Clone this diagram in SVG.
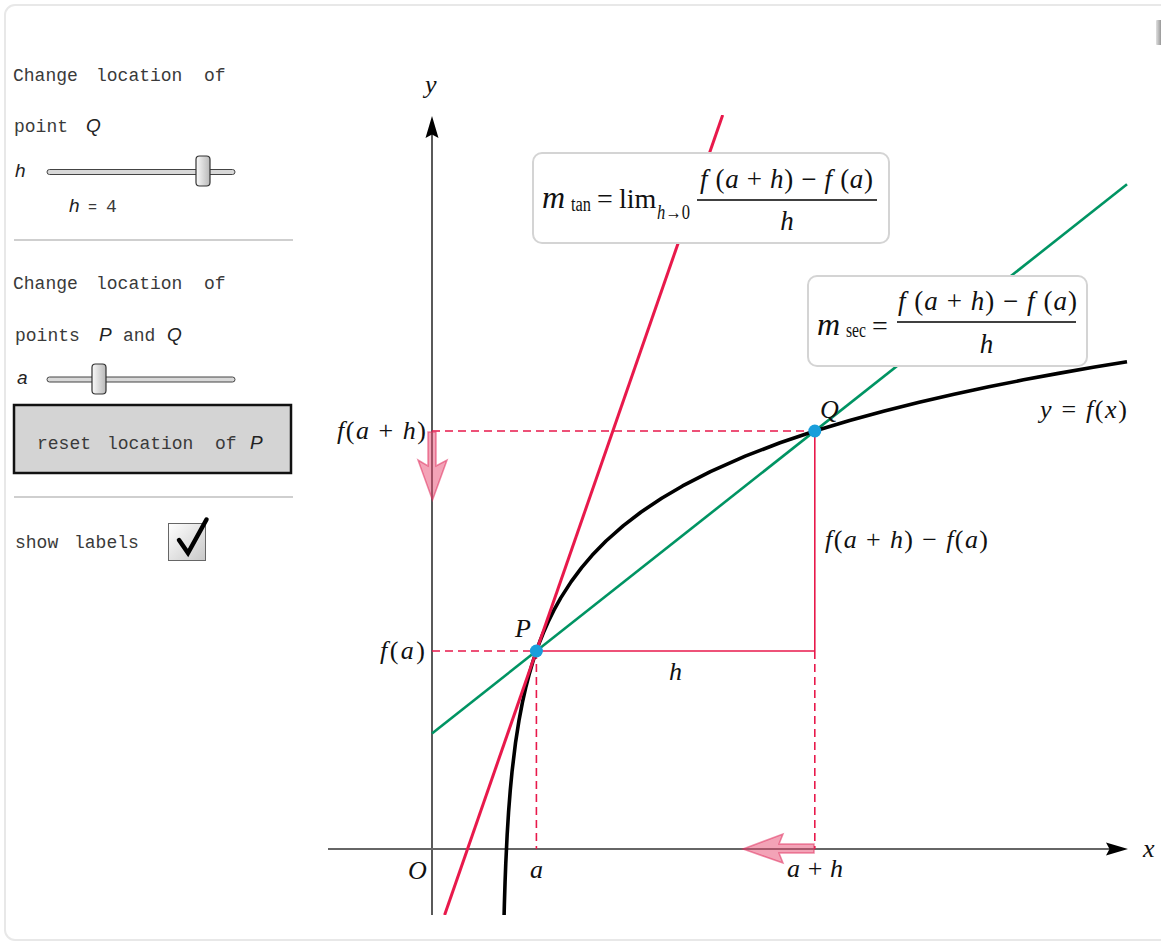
<svg xmlns="http://www.w3.org/2000/svg" width="1161" height="945" viewBox="0 0 1161 945">
<style>
.mono{font-family:"Liberation Mono","DejaVu Sans Mono",monospace;font-size:18px;fill:#3a3a3a}
.si{font-family:"Liberation Sans",Arial,sans-serif;font-style:italic;font-size:19px;fill:#222}
.m{font-family:"Liberation Serif","Times New Roman",serif;font-size:26px;fill:#111}
.i{font-style:italic}
.sub{font-size:20px}
.red{stroke:#e8194b;stroke-width:1.6;fill:none}
.dash{stroke-dasharray:8 5}
.box{fill:#fff;stroke:#d4d4d4;stroke-width:2}
.track{fill:#d8d8d8;stroke:#444;stroke-width:1}
.thumb{fill:url(#thumbG);stroke:#333;stroke-width:1.2}
.drag{fill:#e8476f;fill-opacity:.5;stroke:#e0305e;stroke-opacity:.55;stroke-width:1.5}
</style>
<defs>
<linearGradient id="thumbG" x1="0" y1="0" x2="1" y2="0">
<stop offset="0" stop-color="#fafafa"/><stop offset="1" stop-color="#b8b8b8"/>
</linearGradient>
<linearGradient id="cbG" x1="0" y1="0" x2="1" y2="1">
<stop offset="0" stop-color="#ffffff"/><stop offset="1" stop-color="#c8c8c8"/>
</linearGradient>
<linearGradient id="sbG" x1="0" y1="0" x2="1" y2="0">
<stop offset="0" stop-color="#e0e0e0"/><stop offset="1" stop-color="#8a8a8a"/>
</linearGradient>
<clipPath id="plotClip"><rect x="328" y="115" width="800" height="800"/></clipPath>
</defs>

<rect x="0" y="0" width="1161" height="945" fill="#fff"/>
<rect x="5" y="5" width="1175" height="935" rx="10" fill="#fff" stroke="#e8e8e8" stroke-width="2"/>
<rect x="1156" y="20" width="6" height="25" rx="1" fill="url(#sbG)"/>

<!-- control panel -->
<g id="panel">
<g id="ctrl-h">
<text class="mono" y="81"><tspan x="13">Change</tspan><tspan x="96">location</tspan><tspan x="204">of</tspan></text>
<text class="mono" x="14" y="132">point</text>
<text class="si" x="86" y="132">Q</text>
<text class="si" x="15" y="177">h</text>
<rect class="track" x="47" y="169.5" width="188" height="5" rx="2.5"/>
<rect class="thumb" x="196" y="156" width="14" height="30" rx="3.5"/>
<text class="si" x="69" y="212">h</text>
<text class="mono" x="88" y="212" style="font-size:15px">=</text>
<text class="mono" x="106" y="212">4</text>
</g>
<line x1="14" y1="240" x2="293" y2="240" stroke="#cfcfcf" stroke-width="2"/>
<g id="ctrl-a">
<text class="mono" y="289"><tspan x="13">Change</tspan><tspan x="96">location</tspan><tspan x="204">of</tspan></text>
<text class="mono" x="15" y="341">points</text>
<text class="si" x="99" y="341">P</text>
<text class="mono" x="123" y="341">and</text>
<text class="si" x="167" y="341">Q</text>
<text class="si" x="17" y="384">a</text>
<rect class="track" x="47" y="377" width="188" height="5" rx="2.5"/>
<rect class="thumb" x="92" y="364" width="14" height="30" rx="3.5"/>
</g>
<g id="reset-button">
<rect x="14" y="405" width="277" height="68" fill="#d4d4d4" stroke="#111" stroke-width="2.5"/>
<text class="mono" y="449"><tspan x="37">reset</tspan><tspan x="107">location</tspan><tspan x="215">of</tspan></text>
<text class="si" x="250" y="449">P</text>
</g>
<line x1="14" y1="497" x2="293" y2="497" stroke="#cfcfcf" stroke-width="2"/>
<g id="show-labels">
<text class="mono" y="548"><tspan x="15">show</tspan><tspan x="74">labels</tspan></text>
<rect x="168.5" y="523.5" width="37" height="37" fill="url(#cbG)" stroke="#666" stroke-width="1"/>
<path d="M179,540 L188,553 L206.5,519.5" fill="none" stroke="#000" stroke-width="4.5" stroke-linecap="round" stroke-linejoin="miter"/>
</g>
</g>

<!-- plot -->
<g id="axes">
<line x1="432" y1="915" x2="432" y2="134" stroke="#000" stroke-width="1.3"/>
<path d="M432,116 L438.5,138 L432,134.5 L425.5,138 Z" fill="#000"/>
<line x1="328" y1="849" x2="1110" y2="849" stroke="#666" stroke-width="1.8"/>
<path d="M1128,849 L1106,842.5 L1109.5,849 L1106,855.5 Z" fill="#000"/>
</g>

<g id="connectors">
<g id="guides">
<line class="red dash" x1="432" y1="431" x2="814.8" y2="431"/>
<line class="red dash" x1="432" y1="651" x2="536.4" y2="651"/>
<line class="red dash" x1="536.4" y1="651" x2="536.4" y2="849"/>
<line class="red dash" x1="814.8" y1="651" x2="814.8" y2="849"/>
</g>
<line id="secant" x1="432" y1="733.5" x2="1127" y2="184.3" stroke="#009463" stroke-width="2.6"/>
<polyline id="curve" clip-path="url(#plotClip)" fill="none" stroke="#000" stroke-width="3.6" stroke-linejoin="round" points="504.1,915 504.38,903.9 505.08,881.6 505.78,863.3 507.17,834.5 508.56,812.2 510.3,789.8 512.04,771.6 515.52,742.7 519,720.4 522.48,702.2 525.96,686.7 529.44,673.4 532.92,661.55 536.4,651 539.88,641.46 543.36,632.75 548.23,621.7 553.8,610.41 560.76,597.87 571.2,581.6 581.64,567.6 592.08,555.33 606,541 623.4,525.57 640.8,512.2 661.68,498.2 682.56,485.93 710.4,471.6 745.2,456.16 780,442.79 814.8,431 849.6,420.45 884.4,410.9 919.2,402.18 954,394.18 988.8,386.76 1023.6,379.85 1058.4,373.39 1093.2,367.31 1127,361.7"/>
<line id="tangent" clip-path="url(#plotClip)" x1="444.6" y1="915" x2="722.7" y2="115" stroke="#e8194b" stroke-width="3"/>
<line class="red" x1="536.4" y1="651" x2="814.8" y2="651"/>
<line class="red" x1="814.8" y1="651" x2="814.8" y2="431"/>
</g>

<g id="point-P"><circle cx="536.4" cy="651" r="6.5" fill="#1a9edb"/></g>
<g id="point-Q"><circle cx="814.8" cy="431" r="6.5" fill="#1a9edb"/></g>

<g id="drag-hints">
<path class="drag" d="M428,432 L436,432 L436,466 L447,460 L432.5,500 L418,460 L428,466 Z"/>
<path class="drag" d="M814,844 L814,853 L779,853 L783,863 L743,849 L783,834 L779,844 Z"/>
</g>

<g id="labels">
<text class="m i" x="425" y="93">y</text>
<text class="m i" x="1143" y="857">x</text>
<text class="m i" x="408" y="879">O</text>
<text class="m i" x="530" y="878">a</text>
<text class="m" x="787" y="877" textLength="56" lengthAdjust="spacing"><tspan class="i">a</tspan> + <tspan class="i">h</tspan></text>
<text class="m" x="337" y="439" textLength="89" lengthAdjust="spacing"><tspan class="i">f</tspan>(<tspan class="i">a</tspan> + <tspan class="i">h</tspan>)</text>
<text class="m" x="380" y="659" textLength="45" lengthAdjust="spacing"><tspan class="i">f</tspan>(<tspan class="i">a</tspan>)</text>
<text class="m i" x="515" y="637">P</text>
<text class="m i" x="820" y="418">Q</text>
<text class="m" x="1040" y="418" textLength="87" lengthAdjust="spacing"><tspan class="i">y</tspan> = <tspan class="i">f</tspan>(<tspan class="i">x</tspan>)</text>
<text class="m" x="825" y="548" textLength="163" lengthAdjust="spacing"><tspan class="i">f</tspan>(<tspan class="i">a</tspan> + <tspan class="i">h</tspan>) − <tspan class="i">f</tspan>(<tspan class="i">a</tspan>)</text>
<text class="m i" x="669" y="680">h</text>
</g>

<g id="formula-tan">
<rect class="box" x="533" y="153" width="356" height="90" rx="9"/>
<text class="m i" x="542" y="208" style="font-size:32px">m</text>
<text class="m sub" x="571" y="211" textLength="20" lengthAdjust="spacingAndGlyphs">tan</text>
<text class="m" x="597" y="208" style="font-size:28px">=</text>
<text class="m" x="619" y="208" style="font-size:28px">lim</text>
<text class="m sub" x="657" y="219" textLength="33" lengthAdjust="spacingAndGlyphs"><tspan class="i">h</tspan>→0</text>
<text class="m" x="700" y="188" style="font-size:27px" textLength="173" lengthAdjust="spacing"><tspan class="i">f</tspan> (<tspan class="i">a</tspan> + <tspan class="i">h</tspan>) − <tspan class="i">f</tspan> (<tspan class="i">a</tspan>)</text>
<line x1="697" y1="200" x2="877" y2="200" stroke="#000" stroke-width="1.5"/>
<text class="m i" x="787" y="230" style="font-size:27px" text-anchor="middle">h</text>
</g>

<g id="formula-sec">
<rect class="box" x="808" y="276" width="279" height="90" rx="9"/>
<text class="m i" x="817" y="335" style="font-size:32px">m</text>
<text class="m sub" x="846" y="337" textLength="20" lengthAdjust="spacingAndGlyphs">sec</text>
<text class="m" x="872" y="335" style="font-size:28px">=</text>
<text class="m" x="898" y="310" style="font-size:27px" textLength="179" lengthAdjust="spacing"><tspan class="i">f</tspan> (<tspan class="i">a</tspan> + <tspan class="i">h</tspan>) − <tspan class="i">f</tspan> (<tspan class="i">a</tspan>)</text>
<line x1="897" y1="322" x2="1076" y2="322" stroke="#000" stroke-width="1.5"/>
<text class="m i" x="986.5" y="353" style="font-size:27px" text-anchor="middle">h</text>
</g>
</svg>
